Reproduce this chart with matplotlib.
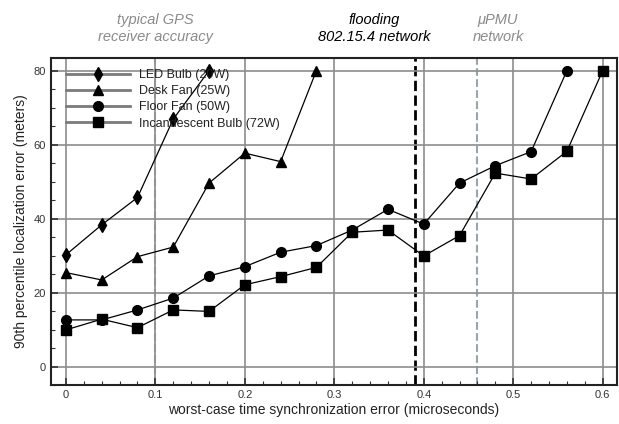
import matplotlib
matplotlib.use("Agg")
import matplotlib.pyplot as plt
from matplotlib.lines import Line2D
from matplotlib.ticker import MultipleLocator

plt.rcParams['font.family'] = ['Liberation Sans', 'DejaVu Sans']

x_led = [0.0, 0.04, 0.08, 0.12, 0.16]
led = [30.2, 38.3, 45.7, 66.9, 80.0]

x_desk = [0.0, 0.04, 0.08, 0.12, 0.16, 0.20, 0.24, 0.28]
desk = [25.4, 23.4, 29.7, 32.3, 49.6, 57.7, 55.4, 80.0]

x_floor = [0.0, 0.04, 0.08, 0.12, 0.16, 0.20, 0.24, 0.28, 0.32, 0.36, 0.40, 0.44, 0.48, 0.52, 0.56]
floor = [12.6, 12.6, 15.3, 18.5, 24.5, 27.0, 30.9, 32.7, 36.9, 42.5, 38.5, 49.6, 54.3, 58.1, 80.0]

x_inc = [0.0, 0.04, 0.08, 0.12, 0.16, 0.20, 0.24, 0.28, 0.32, 0.36, 0.40, 0.44, 0.48, 0.52, 0.56, 0.60]
inc = [9.9, 12.8, 10.5, 15.3, 14.9, 22.1, 24.3, 26.8, 36.3, 36.9, 29.9, 35.4, 52.3, 50.7, 58.2, 80.0]

series_labels = ["LED Bulb (20W)", "Desk Fan (25W)", "Floor Fan (50W)", "Incandescent Bulb (72W)"]
markers = ["d", "^", "o", "s"]

vlines = [0.1, 0.39, 0.46]
annot_x = [0.1, 0.345, 0.483]
annot_text = ["typical GPS\nreceiver accuracy", "flooding\n802.15.4 network", "\u03bcPMU\nnetwork"]
annot_color = ["#8a8a8a", "black", "#8a8a8a"]

W, H = 619, 424
fig = plt.figure(figsize=(W / 100, H / 100), dpi=100)
fig.subplots_adjust(left=50.7 / W, right=617 / W, top=1 - 57.7 / H, bottom=1 - 385 / H)
ax = fig.add_subplot(111)

ax.set_xlim(-0.017, 0.616)
ax.set_ylim(-5, 83.5)
ax.xaxis.set_major_locator(MultipleLocator(0.1))
ax.xaxis.set_minor_locator(MultipleLocator(0.02))
ax.yaxis.set_major_locator(MultipleLocator(20))
ax.yaxis.set_minor_locator(MultipleLocator(5))
ax.set_xticks([0, 0.1, 0.2, 0.3, 0.4, 0.5, 0.6])
ax.set_xticklabels(["0", "0.1", "0.2", "0.3", "0.4", "0.5", "0.6"])
ax.grid(True, which='major', color='#8c8c8c', linewidth=1.2, zorder=0)
ax.tick_params(which='major', direction='in', length=5, width=1.2, labelsize=8, colors='#333333')
ax.tick_params(which='minor', direction='in', length=3, width=0.8, colors='#333333')
for s in ax.spines.values():
    s.set_linewidth(1.5)
    s.set_color('#222222')

ax.axvline(vlines[0], color='#aab8c8', linestyle='--', linewidth=1.5, zorder=1)
ax.axvline(vlines[1], color='black', linestyle='--', linewidth=2.0, zorder=1)
ax.axvline(vlines[2], color='#9aa4ae', linestyle='--', linewidth=1.5, zorder=1)

data = [(x_led, led), (x_desk, desk), (x_floor, floor), (x_inc, inc)]
for (xs, ys), m in zip(data, markers):
    ms = 7.5 if m == 'd' else 7
    ax.plot(xs, ys, color='black', linewidth=0.9, marker=m, markersize=ms, zorder=3)

handles = [Line2D([0], [0], color='#7a7a7a', linewidth=2.0, marker=m, markersize=(7.5 if m == 'd' else 7),
                  markerfacecolor='black', markeredgecolor='black') for m in markers]
leg = ax.legend(handles, series_labels, loc='upper left', frameon=False, fontsize=9,
                handlelength=5.1, handletextpad=0.72, labelspacing=0.33,
                bbox_to_anchor=(0.027, 0.965), borderaxespad=0.0, borderpad=0.0)
for t in leg.get_texts():
    t.set_color('#222222')

for xa, txt, c in zip(annot_x, annot_text, annot_color):
    ax.annotate(txt, xy=(xa, 1.0), xycoords=('data', 'axes fraction'), xytext=(0, 10),
                textcoords='offset points', ha='center', va='bottom', fontsize=10.5,
                style='italic', color=c, linespacing=1.25)

ax.set_xlabel("worst-case time synchronization error (microseconds)", fontsize=10, labelpad=2, color='#222222')
ax.set_ylabel("90th percentile localization error (meters)", fontsize=10, labelpad=4, color='#222222')

fig.savefig("out.png", dpi=100)
